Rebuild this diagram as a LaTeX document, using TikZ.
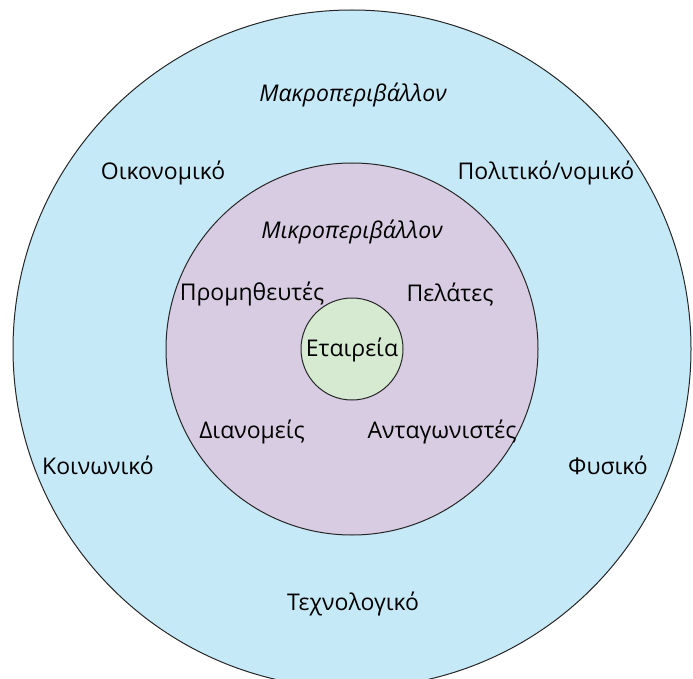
\documentclass[tikz,border=0pt]{standalone}
\usepackage{fontspec}
\setmainfont{Open Sans}
\definecolor{macrofill}{RGB}{198,233,248}
\definecolor{microfill}{RGB}{215,204,226}
\definecolor{firmfill}{RGB}{214,234,210}
\begin{document}
\begin{tikzpicture}[x=1pt,y=-1pt,
  ring/.style={draw=black!85, line width=1pt},
  lbl/.style={font=\fontsize{23}{26}\selectfont, inner sep=0pt},
  ilbl/.style={lbl, font=\fontsize{23}{26}\selectfont\itshape}]
  \useasboundingbox (0,0) rectangle (693,679);
  \begin{scope}
    \clip (0,0) rectangle (693,679);
    \coordinate (c) at (352,349);
    \fill[macrofill] (c) circle (339);
    \draw[ring] (c) circle (339);
    \filldraw[ring, fill=microfill] (c) circle (186);
    \filldraw[ring, fill=firmfill] (c) circle (51);
  \end{scope}
  % outer ring: macro-environment
  \node[ilbl] (macro) at (353,95) {Μακροπεριβάλλον};
  \node[lbl] (econ) at (163,173) {Οικονομικό};
  \node[lbl] (pol) at (546,173) {Πολιτικό/νομικό};
  \node[lbl] (soc) at (98,465) {Κοινωνικό};
  \node[lbl] (nat) at (608,465) {Φυσικό};
  \node[lbl] (tech) at (353,604) {Τεχνολογικό};
  % middle ring: micro-environment
  \node[ilbl] (micro) at (352,232) {Μικροπεριβάλλον};
  \node[lbl] (sup) at (252,294) {Προμηθευτές};
  \node[lbl] (cust) at (450,294) {Πελάτες};
  \node[lbl] (dist) at (252,432) {Διανομείς};
  \node[lbl] (comp) at (442,432) {Ανταγωνιστές};
  % centre
  \node[lbl] (firm) at (352,350) {Εταιρεία};
\end{tikzpicture}
\end{document}
